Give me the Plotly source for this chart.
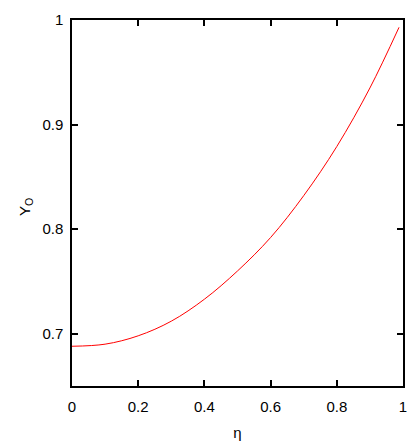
import plotly.graph_objects as go

# Data
eta = [0.0, 0.1, 0.2, 0.3, 0.4, 0.5, 0.6, 0.7, 0.8, 0.9, 0.988]
y0 = [0.688, 0.690, 0.698, 0.712, 0.733, 0.760, 0.792, 0.832, 0.879, 0.935, 0.993]

x_ticks = [0, 0.2, 0.4, 0.6, 0.8, 1]
x_labels = ['0', '0.2', '0.4', '0.6', '0.8', '1']
y_ticks = [0.7, 0.8, 0.9, 1]
y_labels = ['0.7', '0.8', '0.9', '1']

font_family = 'Liberation Sans Narrow, Liberation Sans, Arial'

figure = go.Figure()
figure.add_trace(go.Scatter(
    x=eta,
    y=y0,
    mode='lines',
    line=dict(color='#ff0000', width=1, shape='spline'),
    showlegend=False
))

axis_style = dict(
    showline=True, linecolor='black', linewidth=1.5, mirror='ticks',
    ticks='inside', ticklen=6, tickcolor='black', tickwidth=1.5,
    showgrid=False, zeroline=False, automargin=False,
    tickfont=dict(family=font_family, size=15, color='black'),
)

# the page body adds an 8px margin, so the figure is 8px smaller than the window
figure.update_layout(
    width=407, height=435,
    margin=dict(l=64, r=12, t=12, b=57),
    plot_bgcolor='white', paper_bgcolor='white',
    xaxis=dict(range=[0, 1], tickvals=x_ticks, ticktext=x_labels, ticklabelstandoff=6,
               title=dict(text='η', standoff=14,
                          font=dict(family=font_family, size=15, color='black')),
               **axis_style),
    yaxis=dict(range=[0.65, 1], tickvals=y_ticks, ticktext=y_labels, ticklabelstandoff=4,
               **axis_style),
)

# y title as an annotation so it can sit where the reference has it
figure.add_annotation(
    text='Y<sub>O</sub>', textangle=-90,
    xref='paper', yref='paper', x=0, y=0.5,
    xanchor='center', yanchor='middle', xshift=-47, yshift=-4,
    showarrow=False,
    font=dict(family=font_family, size=15, color='black')
)

figure.write_html("out.html")
